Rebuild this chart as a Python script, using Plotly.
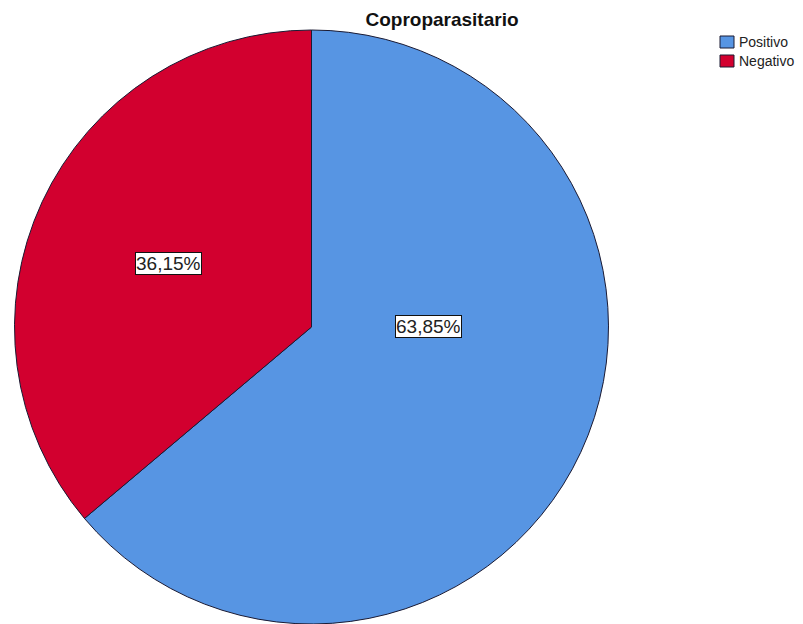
import plotly.graph_objects as go

categories = ["Positivo", "Negativo"]
values = [63.85, 36.15]
label_text = ["63,85%", "36,15%"]
colors = ["#5795E3", "#D2002F"]

# page body has an 8px margin, so the figure is sized/positioned to compensate
W, H = 795, 616
OFF = 8

def px(x):
    return (x - OFF) / W

def py(y):
    return 1 - (y - OFF) / H

fig = go.Figure()
fig.add_trace(go.Pie(
    labels=categories,
    values=values,
    sort=False,
    direction="clockwise",
    rotation=0,
    textinfo="none",
    hoverinfo="label+percent",
    showlegend=False,
    marker=dict(colors=colors, line=dict(color="#1a1a33", width=1)),
    domain=dict(x=[6.5 / W, 600.5 / W], y=[0, 594 / H]),
))

# percentage label boxes
label_pos = {"Positivo": (428, 326), "Negativo": (168, 263)}
for cat, txt in zip(categories, label_text):
    x, y = label_pos[cat]
    fig.add_annotation(
        x=px(x), y=py(y), xref="paper", yref="paper",
        text=txt, showarrow=False,
        font=dict(family="Liberation Sans, Arial", size=19, color="#222222"),
        bgcolor="white", bordercolor="#111111", borderwidth=1, borderpad=0,
        xanchor="center", yanchor="middle",
    )

# legend (drawn manually to match layout)
leg_y = [42, 61]
for cat, col, yc in zip(categories, colors, leg_y):
    fig.add_shape(type="rect", xref="paper", yref="paper",
                  x0=px(720), x1=px(734), y0=py(yc - 6), y1=py(yc + 6),
                  fillcolor=col, line=dict(color="#1a1a33", width=1))
    fig.add_annotation(x=px(738), y=py(yc), xref="paper", yref="paper",
                       text=cat, showarrow=False, xanchor="left", yanchor="middle",
                       borderpad=0,
                       font=dict(family="Liberation Sans, Arial", size=14, color="#222222"))

fig.update_layout(
    width=W, height=H,
    margin=dict(l=0, r=0, t=0, b=0),
    paper_bgcolor="white",
    plot_bgcolor="white",
    title=dict(text="<b>Coproparasitario</b>", x=px(442), xanchor="center",
               y=py(19), yanchor="middle", yref="container",
               font=dict(family="Liberation Sans, Arial", size=19, color="#111111")),
    showlegend=False,
)

fig.write_html("out.html")
